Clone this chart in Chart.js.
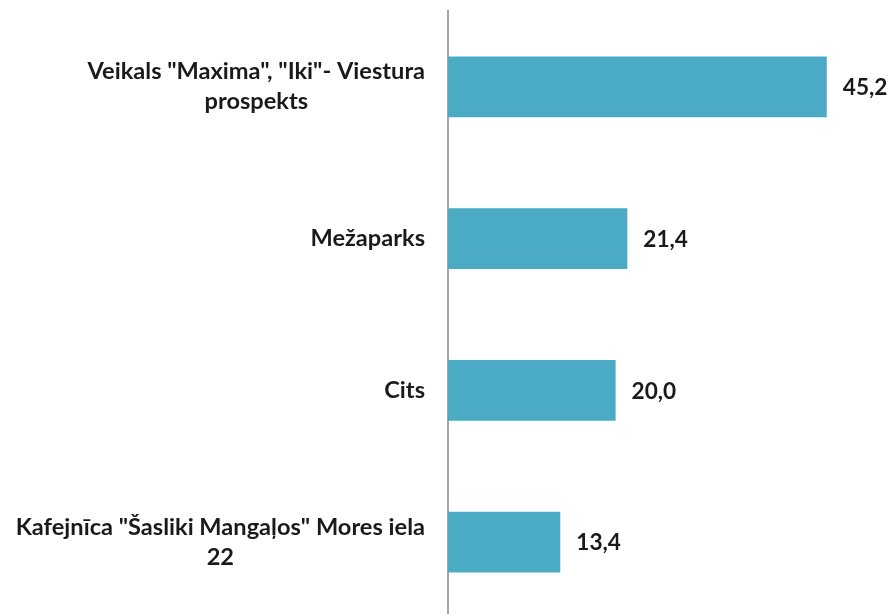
<!DOCTYPE html>
<html>
<head>
<meta charset="utf-8">
<script src="https://cdn.jsdelivr.net/npm/chart.js@4"></script>
<style>
  body { margin: 0; background: #fff; overflow: hidden; }
  #wrap { width: 893px; height: 614px; overflow: hidden; }
</style>
</head>
<body>
<div id="wrap"><canvas id="chart" width="893" height="620"></canvas></div>
<script>
// data
const categories = [
    ['Veikals "Maxima", "Iki"- Viestura', 'prospekts'],
    ['Mežaparks'],
    ['Cits'],
    ['Kafejnīca "Šasliki Mangaļos" Mores iela', '22']
];
const values = [45.2, 21.4, 20.0, 13.4];
const xMin = 0;
const xMax = 50;

const labelFont = 'bold 23.6px Lato';
const valueFont = 'bold 22.6px Lato';
const textColor = '#1a1a1a';

// category labels: block right aligned next to axis, lines centred within block
const categoryLabels = {
    id: 'categoryLabels',
    afterDraw(chart) {
        const ctx = chart.ctx;
        const yScale = chart.scales.y;
        const right = chart.chartArea.left - 23;
        ctx.save();
        ctx.font = labelFont;
        ctx.fillStyle = textColor;
        ctx.textAlign = 'center';
        ctx.textBaseline = 'middle';
        categories.forEach((lines, i) => {
            const widest = Math.max(...lines.map(l => ctx.measureText(l).width));
            const cx = right - widest / 2;
            const cy = yScale.getPixelForValue(i);
            const lh = 30;
            lines.forEach((line, j) => {
                ctx.fillText(line, cx, cy + (j - (lines.length - 1) / 2) * lh);
            });
        });
        ctx.restore();
    }
};

// value labels to the right of each bar
const valueLabels = {
    id: 'valueLabels',
    afterDatasetsDraw(chart) {
        const ctx = chart.ctx;
        const meta = chart.getDatasetMeta(0);
        ctx.save();
        ctx.font = valueFont;
        ctx.fillStyle = textColor;
        ctx.textAlign = 'left';
        ctx.textBaseline = 'middle';
        meta.data.forEach((bar, i) => {
            ctx.fillText(values[i].toFixed(1).replace('.', ','), bar.x + 16, bar.y + 1);
        });
        ctx.restore();
    }
};

const ctxChart = document.getElementById('chart');
const chart = new Chart(ctxChart, {
    type: 'bar',
    data: {
        labels: categories,
        datasets: [{
            data: values,
            backgroundColor: '#4babc5',
            borderWidth: 0,
            barPercentage: 0.4,
            categoryPercentage: 1
        }]
    },
    options: {
        indexAxis: 'y',
        responsive: false,
        animation: false,
        layout: {
            padding: { left: 448, right: 26, top: 11, bottom: 2 }
        },
        plugins: {
            legend: { display: false },
            tooltip: { enabled: false }
        },
        scales: {
            x: {
                display: false,
                min: xMin,
                max: xMax
            },
            y: {
                grid: { display: false, drawTicks: false },
                border: { display: true, color: '#a6a6a6', width: 2 },
                ticks: { display: false }
            }
        }
    },
    plugins: [categoryLabels, valueLabels]
});
</script>
</body>
</html>
